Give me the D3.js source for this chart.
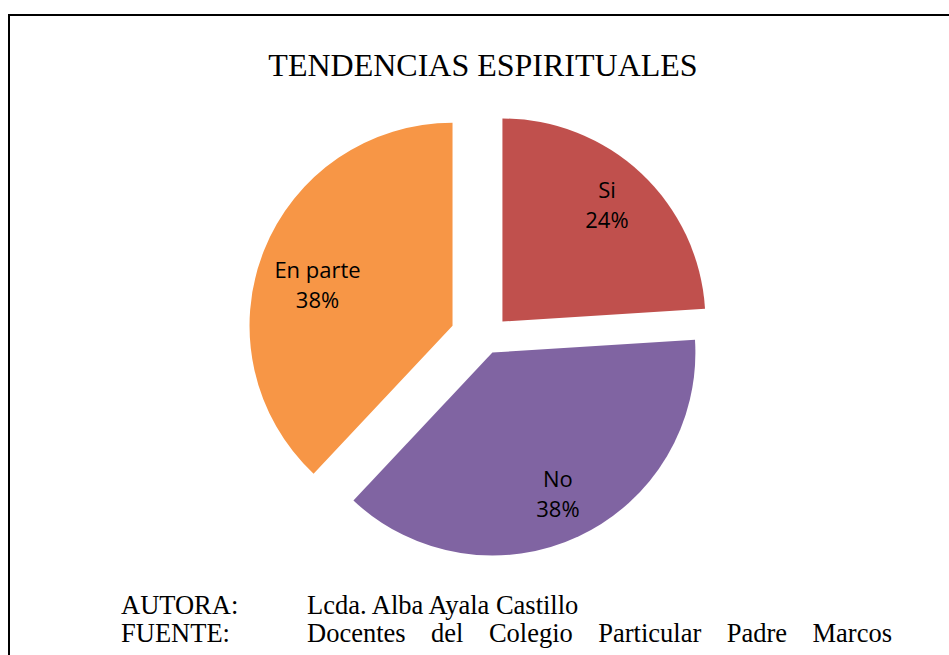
<!DOCTYPE html>
<html>
<head>
<meta charset="utf-8">
<script src="https://cdn.jsdelivr.net/npm/d3@7"></script>
<style>
  body { margin: 0; background: #fff; }
  svg { display: block; }
</style>
</head>
<body>
<svg id="chart" width="949" height="655"></svg>
<script>
const categories = ['Si', 'No', 'En parte']
const values = [24, 38, 38]
const colors = ['#C0504D', '#8064A2', '#F79646']
const title = 'TENDENCIAS ESPIRITUALES'
const autoraLabel = 'AUTORA:'
const autora = 'Lcda. Alba Ayala Castillo'
const fuenteLabel = 'FUENTE:'
const fuente = ['Docentes', 'del', 'Colegio', 'Particular', 'Padre', 'Marcos']

// each slice is pulled out by its own amount, labels sit where the source put them
const explode = [24, 15, 36]
const labelR = [0.744, 0.80, 0.685]
const labelTurn = [0.6, 1.4, -7.7]   // degrees off the slice middle

const svg = d3.select('#chart')
const cx = 486, cy = 339, radius = 203

// frame, runs off the right and bottom of the picture
svg.append('rect')
  .attr('x', 9)
  .attr('y', 15)
  .attr('width', 1000)
  .attr('height', 700)
  .attr('fill', 'none')
  .attr('stroke', '#000')
  .attr('stroke-width', 2)

svg.append('text')
  .attr('x', 483)
  .attr('y', 76)
  .attr('text-anchor', 'middle')
  .attr('font-family', '"Liberation Serif", "Times New Roman", serif')
  .attr('font-size', 32)
  .attr('fill', '#000')
  .text(title)

const pie = d3.pie().sort(null).value(d => d)
const arc = d3.arc().innerRadius(0).outerRadius(radius)
const slices = pie(values)

const sliceG = svg.append('g')
  .selectAll('g')
  .data(slices)
  .enter()
  .append('g')
  .attr('transform', (d, i) => {
    const mid = (d.startAngle + d.endAngle) / 2
    const ox = Math.sin(mid) * explode[i]
    const oy = -Math.cos(mid) * explode[i]
    return `translate(${cx + ox},${cy + oy})`
  })

sliceG.append('path')
  .attr('d', arc)
  .attr('fill', (d, i) => colors[i])

const labels = sliceG.append('text')
  .attr('text-anchor', 'middle')
  .attr('font-family', '"Open Sans", "Noto Sans", sans-serif')
  .attr('font-size', 22)
  .attr('fill', '#000')
  .attr('transform', (d, i) => {
    const a = (d.startAngle + d.endAngle) / 2 + labelTurn[i] * Math.PI / 180
    const r = labelR[i] * radius
    return `translate(${Math.sin(a) * r},${-Math.cos(a) * r})`
  })

labels.append('tspan')
  .attr('x', 0)
  .attr('y', -14.5)
  .text((d, i) => categories[i])

labels.append('tspan')
  .attr('x', 0)
  .attr('y', 15.5)
  .text(d => d3.format('.0%')(d.value / d3.sum(values)))

// footer
const footFont = '"Liberation Serif", "Times New Roman", serif'
const foot = svg.append('g')
  .attr('font-family', footFont)
  .attr('font-size', 26.5)
  .attr('fill', '#000')

foot.append('text').attr('x', 121).attr('y', 614).text(autoraLabel)
foot.append('text').attr('x', 307).attr('y', 614).text(autora)
foot.append('text').attr('x', 121).attr('y', 642).text(fuenteLabel)

// the source line is justified between 307 and 892
const words = foot.selectAll('.word')
  .data(fuente)
  .enter()
  .append('text')
  .attr('class', 'word')
  .attr('y', 642)
  .text(d => d)

const widths = []
words.each(function () { widths.push(this.getComputedTextLength()) })
const gap = (892 - 307 - d3.sum(widths)) / (fuente.length - 1)
let xPos = 307
words.attr('x', (d, i) => {
  const x = xPos
  xPos += widths[i] + gap
  return x
})
</script>
</body>
</html>
